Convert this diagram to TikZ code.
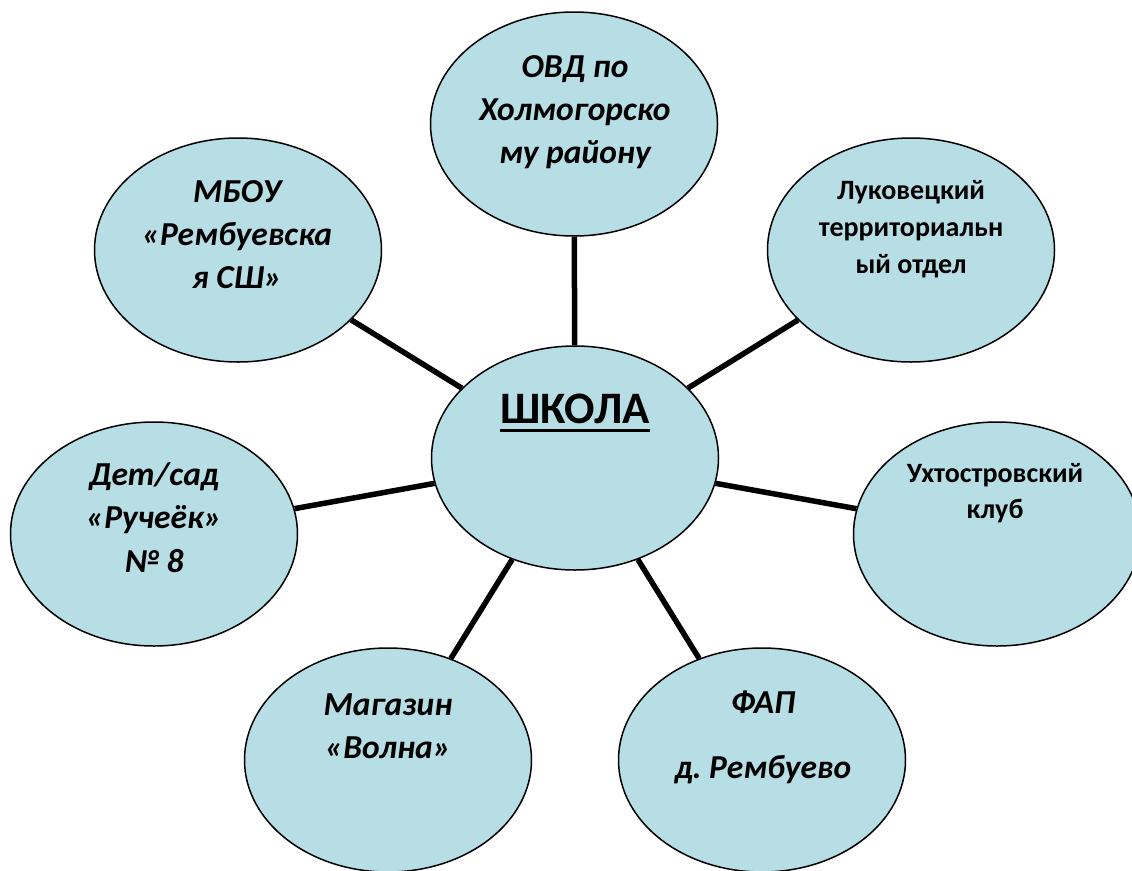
\documentclass[tikz,border=0pt]{standalone}
\usepackage{fontspec}
\setmainfont{Carlito}
\usetikzlibrary{shapes.geometric,backgrounds}
\definecolor{bubblefill}{RGB}{183,222,228}
\newcommand\skund[1]{\setbox0\hbox{#1}\rlap{\rule[-8.5pt]{\wd0}{3pt}}\box0}
\begin{document}
\begin{tikzpicture}[x=1pt,y=-1pt,
  bubble/.style={ellipse, draw=black, line width=1.5pt, fill=bubblefill,
    minimum width=287pt, minimum height=224pt, inner sep=0pt},
  link/.style={line width=5.5pt, draw=black},
  lbl/.style={align=center, anchor=base, inner sep=0pt},
  itl/.style={lbl, font=\fontsize{33.5}{43}\selectfont\bfseries\itshape},
  upl/.style={lbl, font=\fontsize{28}{37}\selectfont\bfseries}]
\useasboundingbox (0,0) rectangle (1132,870);
\clip (0,0) rectangle (1132,870);
\node[bubble] (school) at (575,458) {};
\node[bubble] (ovd) at (574,124) {};
\node[bubble] (mbou) at (238,250) {};
\node[bubble] (luk) at (911,250) {};
\node[bubble] (det) at (154,534) {};
\node[bubble] (uht) at (997,534) {};
\node[bubble] (mag) at (388,760) {};
\node[bubble] (fap) at (762,760) {};
\begin{pgfonlayer}{background}
\draw[link] (ovd) -- (school);
\draw[link] (mbou) -- (school);
\draw[link] (luk) -- (school);
\draw[link] (det) -- (school);
\draw[link] (uht) -- (school);
\draw[link] (mag) -- (school);
\draw[link] (fap) -- (school);
\end{pgfonlayer}
\node[lbl, font=\fontsize{45}{50}\selectfont\bfseries] (schooltxt) at (575,423) {\skund{ШКОЛА}};
\node[itl] (ovdtxt) at (575,163) {ОВД по\\Холмогорско\\му району};
\node[itl] (mboutxt) at (237,288) {МБОУ\\«Рембуевска\\я СШ»};
\node[upl] (luktxt) at (911,273) {Луковецкий\\территориальн\\ый отдел};
\node[itl, font=\fontsize{33.5}{43.5}\selectfont\bfseries\itshape] (dettxt) at (154,572) {Дет/сад\\«Ручеёк»\\№ 8};
\node[upl, font=\fontsize{28}{36}\selectfont\bfseries] (uhttxt) at (995,518) {Ухтостровский\\клуб};
\node[itl] (magtxt) at (388,758) {Магазин\\«Волна»};
\node[itl, font=\fontsize{33.5}{65}\selectfont\bfseries\itshape] (faptxt) at (763,778) {ФАП\\д.~Рембуево};
\end{tikzpicture}
\end{document}
